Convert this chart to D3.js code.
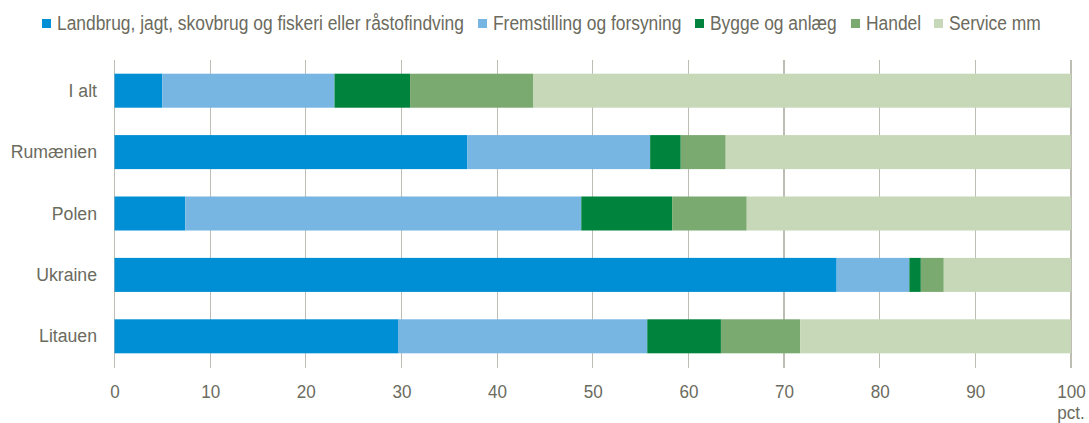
<!DOCTYPE html>
<html><head><meta charset="utf-8">
<script src="https://cdn.jsdelivr.net/npm/d3@7"></script>
<style>
html,body{margin:0;padding:0;background:#fff;}
svg text{font-family:"Liberation Sans",Arial,sans-serif;fill:#6b6b5e;}
</style></head>
<body><svg id="c" width="1089" height="423"></svg>
<script>
const categories = ["I alt","Rumænien","Polen","Ukraine","Litauen"];
const seriesNames = ["Landbrug, jagt, skovbrug og fiskeri eller råstofindving","Fremstilling og forsyning","Bygge og anlæg","Handel","Service mm"];
const landbrug    = [5.0, 36.9, 7.4, 75.5, 29.7];
const fremstilling= [18.0, 19.1, 41.4, 7.6, 26.0];
const bygge       = [7.9, 3.2, 9.5, 1.2, 7.7];
const handel      = [12.9, 4.7, 7.8, 2.4, 8.3];
const service     = [56.2, 36.1, 33.9, 13.3, 28.3];
const xTicks = [0,10,20,30,40,50,60,70,80,90,100];
const unitLabel = "pct.";
const colors = ["#008fd5","#77b5e3","#00843d","#7aaa6f","#c7d8b8"];

const seriesVals = [landbrug, fremstilling, bygge, handel, service];
const rows = categories.map((c,i)=>{const o={cat:c}; seriesNames.forEach((s,j)=>o[s]=seriesVals[j][i]); return o;});
const stack = d3.stack().keys(seriesNames)(rows);

const svg = d3.select("#c");
const x = d3.scaleLinear().domain([0,100]).range([114.5,1071]);
const y = d3.scaleBand().domain(categories).range([60,367]).paddingInner(0.446).paddingOuter(0.223);

// gridlines
svg.append("g").selectAll("line").data(xTicks).join("line")
  .attr("x1",d=>x(d)).attr("x2",d=>x(d)).attr("y1",60).attr("y2",368)
  .attr("stroke","#bdbdb3").attr("stroke-width",1.2).attr("shape-rendering","crispEdges");

// bars
svg.append("g").selectAll("g").data(stack).join("g")
  .attr("fill",(d,i)=>colors[i])
  .selectAll("rect").data(d=>d).join("rect")
  .attr("x",d=>x(d[0])).attr("width",d=>x(d[1])-x(d[0]))
  .attr("y",d=>y(d.data.cat)).attr("height",y.bandwidth());

// x axis labels
const xa = svg.append("g").attr("transform","translate(0,398)")
  .call(d3.axisBottom(x).tickValues(xTicks).tickSize(0).tickPadding(0).tickFormat(d3.format("d")));
xa.select(".domain").remove();
xa.selectAll("text").attr("font-size",18).attr("dy",0).attr("y",0)
  .attr("transform","scale(0.95,1)")
  .style("fill","#6b6b5e").style("font-family",'"Liberation Sans",Arial,sans-serif');
svg.append("text").attr("transform",`translate(${x(100)},419) scale(0.95,1)`)
  .attr("text-anchor","middle").attr("font-size",18).text(unitLabel);

// y axis labels
const ya = svg.append("g").attr("transform","translate(97,0)")
  .call(d3.axisLeft(y).tickSize(0).tickPadding(0));
ya.select(".domain").remove();
ya.selectAll("text").attr("font-size",19).attr("transform","scale(0.93,1)")
  .style("fill","#6b6b5e").style("font-family",'"Liberation Sans",Arial,sans-serif');

// legend
const legX = [42, 478, 695, 851, 934];
const lg = svg.append("g").selectAll("g").data(seriesNames).join("g")
  .attr("transform",(d,i)=>`translate(${legX[i]},0)`);
lg.append("rect").attr("x",0).attr("y",19).attr("width",9).attr("height",9).attr("fill",(d,i)=>colors[i]);
lg.append("text").attr("transform","translate(15,30) scale(0.87,1)").attr("font-size",20).text(d=>d);
</script></body></html>
